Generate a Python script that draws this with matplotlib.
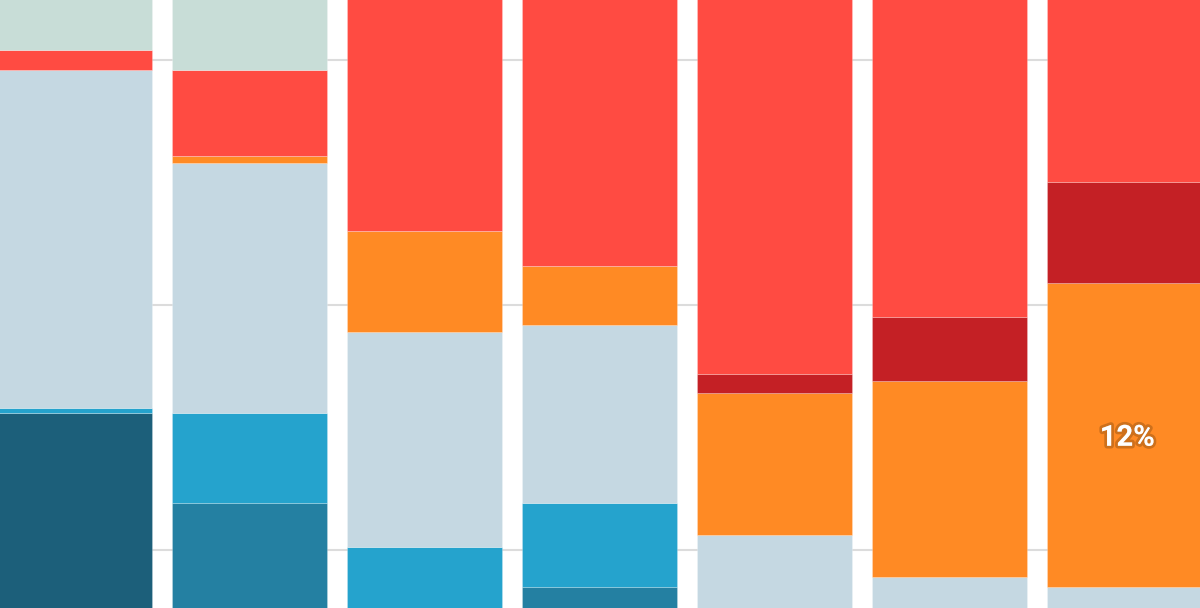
import numpy as np
import matplotlib
matplotlib.use("Agg")
import matplotlib.pyplot as plt
import matplotlib.patheffects as pe

# seven stacked columns, values in percent (bottom series first)
bars = ["A", "B", "C", "D", "E", "F", "G"]
navy = [15.6, 0.0, 0.0, 0.0, 0.0, 0.0, 0.0]
teal = [0.0, 11.9, 0.0, 8.5, 0.0, 0.0, 0.0]
blue = [0.2, 3.7, 10.1, 3.4, 0.0, 0.0, 0.0]
gray = [13.8, 10.2, 8.8, 7.3, 10.6, 8.9, 8.5]
orange = [0.0, 0.3, 4.1, 2.4, 5.8, 8.0, 12.4]
darkred = [0.0, 0.0, 0.0, 0.0, 0.8, 2.6, 4.1]
red = [0.8, 3.5, 77.0, 78.4, 82.8, 80.5, 75.0]
green = [69.6, 70.4, 0.0, 0.0, 0.0, 0.0, 0.0]

series = [navy, teal, blue, gray, orange, darkred, red, green]
colors = ["#1c5f7a", "#2480a2", "#25a3cd", "#c5d8e2",
          "#ff8a24", "#c42025", "#ff4b42", "#c8ddd7"]

fig = plt.figure(figsize=(12, 6.08), dpi=100)
ax = fig.add_axes([0, 0, 1, 1])

x = np.arange(len(bars))
bottom = np.zeros(len(bars))
for vals, col in zip(series, colors):
    vals = np.array(vals)
    ax.bar(x, vals, bottom=bottom, width=0.886, color=col,
           edgecolor=(1, 1, 1, 0.25), linewidth=0.6, zorder=2)
    bottom += vals

# data label on the big orange block of the last column
orange_base = np.array(navy) + teal + np.array(blue) + gray
ax.text(x[6] + 0.015, orange_base[6] + orange[6] / 2 - 0.12, f"{orange[6]:.0f}%",
        ha="center", va="center", color="white", fontsize=21,
        fontweight="bold", family="Roboto", zorder=3,
        path_effects=[pe.withStroke(linewidth=4, foreground=(0.45, 0.25, 0.05, 0.35))])

ax.set_xlim(-0.4257, 6.431)
ax.set_ylim(7.63, 32.45)
ax.set_yticks([10, 20, 30])
ax.yaxis.grid(True, color="#dcdcdc", linewidth=1.5, zorder=0)
ax.set_axisbelow(True)
ax.tick_params(left=False, bottom=False, labelleft=False, labelbottom=False)
for s in ax.spines.values():
    s.set_visible(False)

fig.savefig("out.png", dpi=100)
